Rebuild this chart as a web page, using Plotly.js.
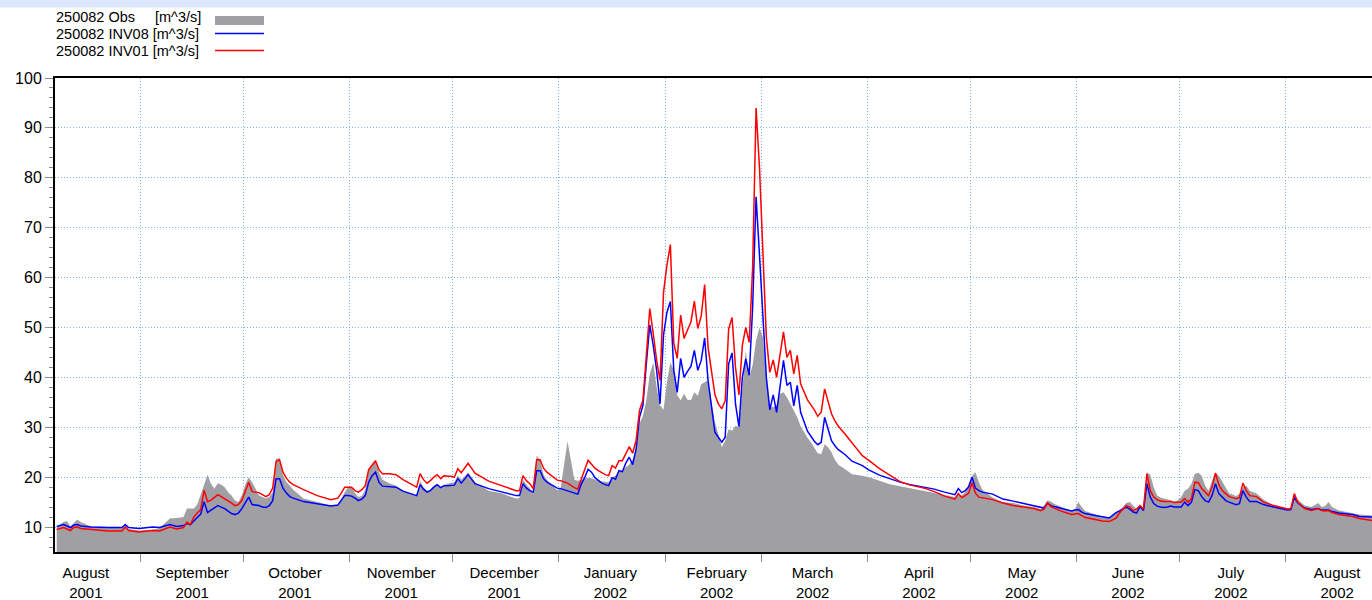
<!DOCTYPE html>
<html>
<head>
<meta charset="utf-8">
<script src="https://cdn.plot.ly/plotly-3.0.1.min.js"></script>
<style>html,body{margin:0;padding:0;background:#fff;}#chart{width:1372px;height:600px;}</style>
</head>
<body>
<div id="chart"></div>
<script>
// ---- data (daily values, plotted at mid-day); one line per month ----
const dates = [
'2001-08-07','2001-08-08','2001-08-09','2001-08-10','2001-08-11','2001-08-12','2001-08-13','2001-08-14','2001-08-17','2001-08-22','2001-08-26','2001-08-27','2001-08-28','2001-08-31',
'2001-09-04','2001-09-06','2001-09-09','2001-09-11','2001-09-13','2001-09-14','2001-09-15','2001-09-16','2001-09-17','2001-09-18','2001-09-19','2001-09-20','2001-09-21','2001-09-22','2001-09-23','2001-09-24','2001-09-25','2001-09-26','2001-09-27','2001-09-28','2001-09-29','2001-09-30',
'2001-10-01','2001-10-02','2001-10-03','2001-10-04','2001-10-05','2001-10-06','2001-10-07','2001-10-08','2001-10-09','2001-10-10','2001-10-11','2001-10-12','2001-10-13','2001-10-14','2001-10-15','2001-10-18','2001-10-22','2001-10-26','2001-10-28','2001-10-29','2001-10-30','2001-10-31',
'2001-11-01','2001-11-02','2001-11-03','2001-11-04','2001-11-05','2001-11-06','2001-11-07','2001-11-08','2001-11-09','2001-11-10','2001-11-12','2001-11-14','2001-11-16','2001-11-20','2001-11-21','2001-11-22','2001-11-23','2001-11-24','2001-11-25','2001-11-26','2001-11-27','2001-11-28','2001-11-29','2001-11-30',
'2001-12-01','2001-12-02','2001-12-03','2001-12-04','2001-12-05','2001-12-06','2001-12-07','2001-12-11','2001-12-15','2001-12-19','2001-12-20','2001-12-21','2001-12-22','2001-12-23','2001-12-24','2001-12-25','2001-12-26','2001-12-27','2001-12-28','2001-12-31',
'2002-01-01','2002-01-03','2002-01-05','2002-01-06','2002-01-07','2002-01-08','2002-01-09','2002-01-10','2002-01-11','2002-01-12','2002-01-13','2002-01-14','2002-01-15','2002-01-16','2002-01-17','2002-01-18','2002-01-19','2002-01-20','2002-01-21','2002-01-22','2002-01-23','2002-01-24','2002-01-25','2002-01-26','2002-01-27','2002-01-28','2002-01-29','2002-01-30','2002-01-31',
'2002-02-01','2002-02-02','2002-02-03','2002-02-04','2002-02-05','2002-02-06','2002-02-07','2002-02-08','2002-02-09','2002-02-10','2002-02-11','2002-02-12','2002-02-13','2002-02-14','2002-02-15','2002-02-16','2002-02-17','2002-02-18','2002-02-19','2002-02-20','2002-02-21','2002-02-22','2002-02-23','2002-02-24','2002-02-25','2002-02-26','2002-02-27','2002-02-28',
'2002-03-01','2002-03-02','2002-03-03','2002-03-04','2002-03-05','2002-03-06','2002-03-07','2002-03-08','2002-03-09','2002-03-10','2002-03-11','2002-03-12','2002-03-13','2002-03-14','2002-03-15','2002-03-16','2002-03-17','2002-03-18','2002-03-19','2002-03-20','2002-03-21','2002-03-22','2002-03-23','2002-03-25','2002-03-27','2002-03-30',
'2002-04-01','2002-04-04','2002-04-07','2002-04-10','2002-04-13','2002-04-17','2002-04-20','2002-04-23','2002-04-25','2002-04-26','2002-04-27','2002-04-28','2002-04-29','2002-04-30',
'2002-05-01','2002-05-02','2002-05-03','2002-05-04','2002-05-07','2002-05-10','2002-05-13','2002-05-16','2002-05-19','2002-05-21','2002-05-22','2002-05-23','2002-05-24','2002-05-25','2002-05-27','2002-05-30','2002-05-31',
'2002-06-01','2002-06-02','2002-06-03','2002-06-06','2002-06-08','2002-06-10','2002-06-12','2002-06-13','2002-06-14','2002-06-15','2002-06-16','2002-06-17','2002-06-18','2002-06-19','2002-06-20','2002-06-21','2002-06-22','2002-06-23','2002-06-24','2002-06-25','2002-06-26','2002-06-27','2002-06-28','2002-06-29','2002-06-30',
'2002-07-01','2002-07-02','2002-07-03','2002-07-04','2002-07-05','2002-07-06','2002-07-07','2002-07-08','2002-07-09','2002-07-10','2002-07-11','2002-07-12','2002-07-13','2002-07-14','2002-07-15','2002-07-16','2002-07-17','2002-07-18','2002-07-19','2002-07-20','2002-07-21','2002-07-23','2002-07-25','2002-07-28','2002-07-31',
'2002-08-01','2002-08-02','2002-08-03','2002-08-04','2002-08-06','2002-08-08','2002-08-10','2002-08-11','2002-08-12','2002-08-13','2002-08-14','2002-08-16','2002-08-20','2002-08-22','2002-08-26'
];

const obs = [
10.1,10.5,11.0,11.2,10.1,10.8,11.5,11.0,10.1,10.0,9.8,10.3,9.6,9.3,
9.5,9.8,11.7,11.8,12.0,13.7,13.7,13.7,14.5,16.5,18.5,20.5,18.7,17.7,18.8,18.5,18.0,17.0,16.3,15.3,15.0,16.3,
18.5,20.0,19.0,17.5,16.3,16.0,15.7,16.0,17.0,23.7,23.8,20.5,19.0,18.3,17.5,15.7,15.0,14.3,14.4,15.5,17.0,18.0,
18.0,16.8,16.0,16.2,17.5,21.3,22.5,23.5,21.0,19.5,18.8,18.3,17.3,16.3,19.3,18.0,17.3,17.5,18.3,18.7,18.0,18.5,18.7,18.8,
19.0,20.3,19.5,20.2,21.0,20.0,19.0,17.3,16.7,15.7,15.8,19.5,18.5,17.8,16.6,24.3,23.5,20.5,19.5,17.4,
17.8,27.2,19.5,19.3,19.5,19.8,19.9,19.8,19.5,19.3,19.2,19.1,19.0,20.0,20.3,21.0,21.4,22.0,22.5,23.5,25.6,30.7,32.3,35.4,40.7,43.0,38.0,34.4,33.5,
39.0,43.0,41.5,36.4,35.4,36.7,35.5,35.4,37.0,36.3,38.6,39.0,39.4,35.0,31.0,28.6,26.0,27.3,29.6,29.3,30.3,30.0,38.0,45.4,40.0,42.5,47.4,50.0,
48.0,40.0,34.3,34.0,34.5,36.7,37.0,36.0,34.7,33.3,32.0,30.2,29.0,27.9,27.0,25.8,24.8,24.6,26.6,26.0,25.0,23.5,22.5,21.6,20.6,20.3,
20.0,19.3,18.6,18.2,17.8,17.3,16.9,16.5,16.1,16.0,16.5,16.3,17.0,18.5,
20.3,21.0,19.0,17.5,15.9,15.0,14.8,14.3,14.0,13.6,14.3,15.3,15.1,14.6,14.0,13.2,13.5,
15.0,14.0,13.2,12.5,12.1,11.9,13.0,13.3,14.0,14.8,15.0,14.3,13.6,14.2,13.8,21.0,20.5,18.0,16.3,15.9,15.7,15.5,15.3,15.1,15.3,
16.0,17.3,17.7,18.7,20.7,20.9,20.3,18.3,17.3,19.3,21.0,20.3,19.0,17.7,16.7,16.5,16.2,16.6,18.0,18.3,17.3,16.7,15.5,14.3,13.7,
13.6,13.7,16.3,15.5,14.3,14.0,14.8,14.0,14.2,15.0,14.0,13.3,12.8,12.5,12.3
];

const inv08 = [
10.1,10.3,10.5,10.2,9.9,10.4,10.5,10.2,10.0,9.9,9.9,10.5,9.9,9.7,
10.0,9.9,10.5,10.1,10.3,10.7,10.5,11.2,11.8,12.6,15.1,12.9,13.4,13.8,14.3,14.0,13.7,13.2,12.7,12.5,12.8,13.7,
15.0,16.0,14.5,14.4,14.3,14.0,13.9,14.3,15.3,19.7,19.7,17.8,16.8,16.1,15.8,15.1,14.7,14.2,14.4,15.3,16.3,16.3,
16.2,15.8,15.3,15.6,16.3,19.0,20.3,21.0,19.0,18.2,18.1,18.0,17.2,16.3,18.5,17.6,17.0,17.3,18.0,18.5,17.9,18.3,18.3,18.3,
18.4,19.7,18.8,19.6,20.5,19.6,18.7,17.7,17.0,16.3,16.3,18.7,17.8,17.3,17.0,21.3,21.3,19.7,19.0,17.8,
17.7,17.3,16.8,16.6,18.6,19.9,21.6,21.0,19.9,19.3,18.8,18.5,18.3,19.9,19.6,21.3,21.1,22.8,24.0,22.5,25.6,32.0,34.4,42.8,50.5,46.4,41.4,34.7,48.5,
53.0,55.2,41.4,37.0,43.8,40.0,41.2,42.2,45.4,41.4,43.4,47.9,39.4,34.0,29.0,28.0,27.0,28.0,42.7,44.9,34.7,30.1,40.0,43.7,40.4,54.0,76.2,64.5,
52.0,40.0,33.5,36.5,33.0,38.7,43.4,38.4,39.0,34.3,38.4,33.0,31.0,29.2,28.2,27.2,26.5,27.0,32.0,29.5,27.3,26.3,25.5,24.5,23.2,22.3,
21.4,20.4,19.7,19.0,18.5,18.0,17.6,17.0,16.6,16.5,17.7,16.9,17.3,18.0,
20.0,17.8,17.3,17.0,16.6,15.6,15.2,14.7,14.2,13.9,13.8,14.8,14.3,14.1,13.7,13.2,13.4,
13.5,13.0,12.7,12.3,12.1,11.8,12.9,13.2,13.6,14.0,13.6,13.0,12.8,14.1,13.3,18.7,16.0,14.7,14.2,14.0,13.9,14.0,14.2,14.0,14.0,
14.0,15.0,14.3,15.0,17.5,17.3,16.1,15.3,15.0,16.3,18.7,16.7,16.0,15.3,15.0,14.7,14.5,14.7,17.3,16.0,15.1,15.1,14.5,14.0,13.5,
13.4,13.5,16.0,14.8,13.8,13.5,13.7,13.4,13.4,13.4,13.1,12.8,12.5,12.1,12.0
];

const inv01 = [
9.5,9.7,9.9,9.6,9.3,9.9,10.0,9.7,9.5,9.2,9.2,10.0,9.3,9.0,
9.3,9.2,10.0,9.6,9.9,11.0,10.5,12.0,12.8,13.5,17.4,15.1,15.4,15.9,16.5,16.1,15.7,15.2,14.8,14.3,14.5,15.3,
17.3,19.0,17.1,17.0,16.9,16.5,16.1,16.5,17.8,23.2,23.5,21.0,19.8,19.0,18.5,17.5,16.3,15.5,15.8,16.8,18.0,18.0,
18.0,17.3,17.0,17.5,18.3,21.5,22.5,23.3,21.5,20.7,20.7,20.5,19.5,18.0,20.7,19.5,18.8,19.3,20.0,20.5,19.7,20.3,20.2,20.2,
20.0,21.7,20.9,21.8,22.8,21.8,20.8,19.2,18.3,17.3,17.3,20.3,19.3,18.7,17.7,23.5,23.5,21.8,21.0,19.4,
19.3,18.8,17.9,17.6,19.6,21.6,23.4,22.6,21.8,21.3,20.9,20.5,20.3,22.3,21.8,23.3,23.3,24.8,26.1,24.8,27.3,33.4,35.4,44.4,53.8,48.8,43.4,39.4,57.0,
62.5,66.6,46.8,43.8,52.5,47.8,49.5,51.1,55.3,49.8,52.3,58.6,46.0,40.7,36.5,34.7,33.7,35.3,49.7,52.0,42.0,36.5,46.4,50.0,47.0,62.0,94.0,82.0,
64.0,48.0,41.0,43.5,40.0,44.7,49.1,44.0,45.4,40.7,44.4,38.7,37.0,35.5,34.5,33.5,32.2,33.0,37.7,35.0,32.7,31.3,30.2,28.6,26.8,24.3,
23.3,21.7,20.4,19.1,18.4,17.8,17.1,16.2,15.8,15.6,16.7,15.9,16.3,16.8,
18.9,16.8,16.0,15.9,15.5,14.8,14.3,14.0,13.7,13.3,13.6,14.8,14.1,13.8,13.2,12.5,12.6,
12.7,12.3,11.9,11.5,11.2,11.1,11.8,12.8,13.5,14.3,14.0,13.3,13.6,14.3,13.6,20.7,17.3,16.0,15.5,15.2,15.1,15.1,15.1,14.9,14.9,
15.0,15.7,15.0,15.7,19.0,18.9,17.7,17.0,16.3,18.0,20.8,18.5,17.3,16.7,16.1,15.9,15.7,15.9,18.8,17.3,16.3,16.1,15.0,14.3,13.7,
13.6,13.7,16.7,15.0,13.7,13.3,13.7,13.3,13.2,13.3,12.9,12.5,12.1,11.7,11.3
];

// axis: month boundaries (grid + ticks) and month labels (centred mid-month)
const monthStarts = ['2001-08-01','2001-09-01','2001-10-01','2001-11-01','2001-12-01','2002-01-01','2002-02-01',
  '2002-03-01','2002-04-01','2002-05-01','2002-06-01','2002-07-01','2002-08-01','2002-09-01'];
const monthLabels = ['August<br>2001','September<br>2001','October<br>2001','November<br>2001','December<br>2001',
  'January<br>2002','February<br>2002','March<br>2002','April<br>2002','May<br>2002','June<br>2002','July<br>2002','August<br>2002'];
const yTicks = [10,20,30,40,50,60,70,80,90,100];
const seriesNames = ['250082 Obs', '250082 INV08', '250082 INV01'];
const unitLabel = '[m^3/s]';

// ---- drawing ----
const W = 1372, H = 600, M = {l:55, r:0, t:78, b:48};
const pw = W - M.l - M.r, ph = H - M.t - M.b;
const px = x => (x - M.l) / pw;          // pixel -> paper x
const py = y => (H - M.b - y) / ph;      // pixel -> paper y

const x = dates.map(d => d + ' 12:00');
const midMonths = monthStarts.slice(0, monthLabels.length).map(d => d.slice(0, 8) + '16');

const GRAY = '#a0a0a4', BLUE = '#0000ff', RED = '#ff0000';
const traces = [
  {x: x, y: obs, type:'scatter', mode:'lines', fill:'tozeroy', fillcolor: GRAY,
   line:{width:0, color:GRAY}, name: seriesNames[0]},
  {x: x, y: inv08, type:'scatter', mode:'lines', line:{width:1.5, color:BLUE}, name: seriesNames[1]},
  {x: x, y: inv01, type:'scatter', mode:'lines', line:{width:1.5, color:RED}, name: seriesNames[2]}
];

const FONT = 'Liberation Sans, Arial, sans-serif';
const legRows = [17, 34, 51];
const annotations = [
  {text: seriesNames[0], x: px(54), y: py(legRows[0])},
  {text: unitLabel, x: px(153), y: py(legRows[0])},
  {text: seriesNames[1] + ' ' + unitLabel, x: px(54), y: py(legRows[1])},
  {text: seriesNames[2] + ' ' + unitLabel, x: px(54), y: py(legRows[2])}
].map(a => Object.assign({xref:'paper', yref:'paper', xanchor:'left', yanchor:'middle', showarrow:false,
  font:{family:FONT, size:14.5, color:'#000'}}, a));

const shapes = [
  {type:'rect', xref:'paper', yref:'paper', x0: px(0), x1: px(W), y0: py(0), y1: py(7.5),
   fillcolor:'#dbe8fc', line:{width:0}, layer:'above'},
  {type:'rect', xref:'paper', yref:'paper', x0: px(215), x1: px(264), y0: py(16), y1: py(25),
   fillcolor:GRAY, line:{width:0}},
  {type:'line', xref:'paper', yref:'paper', x0: px(215), x1: px(264), y0: py(33.5), y1: py(33.5),
   line:{color:BLUE, width:1.5}},
  {type:'line', xref:'paper', yref:'paper', x0: px(215), x1: px(264), y0: py(50.5), y1: py(50.5),
   line:{color:RED, width:1.5}}
];

const GRID = '#7fb4f0';
const GDASH = '1px,2px';
const layout = {
  width: W, height: H, margin: M,
  paper_bgcolor:'#ffffff', plot_bgcolor:'#ffffff',
  showlegend:false,
  font:{family:FONT, size:16, color:'#000'},
  xaxis:{
    type:'date', range:['2001-08-07 00:00','2002-08-26 04:00'],
    tickmode:'array', tickvals: midMonths, ticktext: monthLabels,
    ticks:'', showgrid:false, zeroline:false, ticklabelstandoff: 6,
    showline:true, linecolor:'#000', linewidth:2, mirror:true,
    tickfont:{family:FONT, size:15, color:'#000'},
    minor:{tickmode:'array', tickvals: monthStarts, ticks:'outside', ticklen:8, tickwidth:1,
      tickcolor:'#8a8a8a', showgrid:true, gridcolor:GRID, griddash:GDASH, gridwidth:1}
  },
  yaxis:{
    range:[5,100], tickmode:'array', tickvals: yTicks, ticktext: yTicks.map(String),
    ticks:'outside', ticklen:8, tickwidth:1, tickcolor:'#8a8a8a',
    showgrid:true, gridcolor:GRID, griddash:GDASH, gridwidth:1, zeroline:false,
    showline:true, linecolor:'#000', linewidth:2,
    tickfont:{family:FONT, size:16, color:'#000'},
    minor:{tickmode:'linear', tick0:0, dtick:2, ticks:'outside', ticklen:4, tickwidth:1,
      tickcolor:'#8a8a8a', showgrid:false}
  },
  annotations: annotations,
  shapes: shapes
};

Plotly.newPlot('chart', traces, layout, {staticPlot:true, displayModeBar:false});
</script>
</body>
</html>
